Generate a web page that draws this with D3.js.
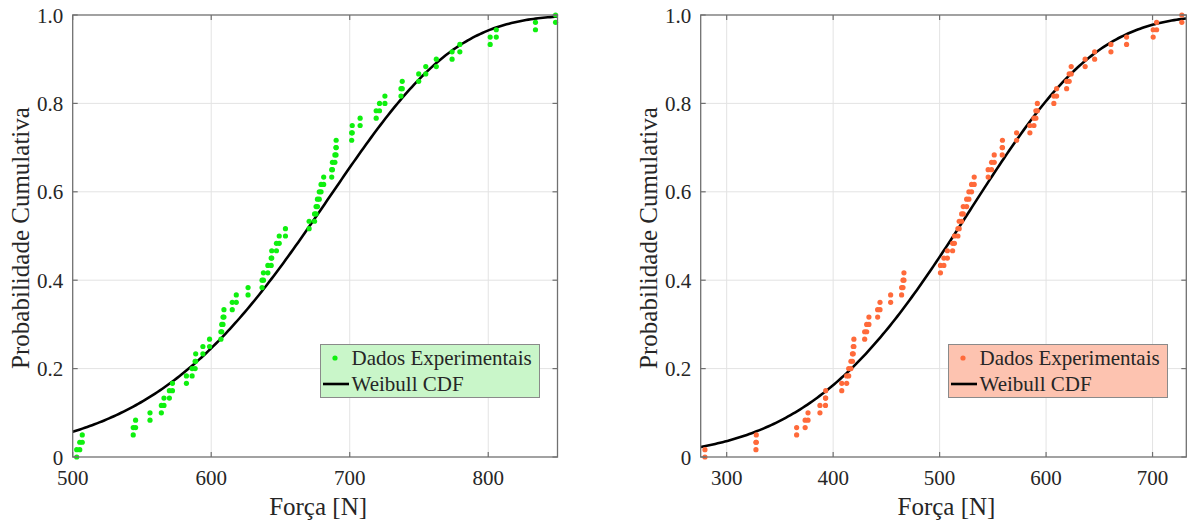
<!DOCTYPE html>
<html>
<head>
<meta charset="utf-8">
<script src="https://cdn.jsdelivr.net/npm/d3@7"></script>
<style>
  body { margin: 0; background: #fff; }
  svg { display: block; }
  text { font-family: "Liberation Serif", "Times New Roman", serif; fill: #262626; }
</style>
</head>
<body>
<svg id="chart" width="1187" height="523"></svg>
<script>
// forces (N), sorted samples of each test series
const forcaVerde = [
  502.9, 505.1, 506.9, 543.7, 545.4, 555.8, 564.0, 565.9, 569.8, 572.0,
  582.1, 586.2, 588.4, 588.8, 594.0, 598.8, 607.0, 607.6, 608.5, 609.2,
  615.2, 618.1, 626.6, 636.7, 637.7, 640.9, 643.3, 643.7, 647.1, 649.1,
  653.6, 670.7, 674.6, 675.7, 676.7, 678.0, 679.3, 681.2, 687.0, 687.5,
  689.3, 690.1, 690.2, 701.4, 701.8, 707.5, 719.1, 721.5, 725.4, 737.0,
  737.9, 749.8, 754.9, 762.5, 773.9, 779.5, 801.4, 805.8, 834.1, 848.6
]
const forcaLaranja = [
  279.6, 327.5, 327.8, 365.7, 373.7, 376.4, 387.6, 392.8, 393.0, 408.1,
  412.7, 414.6, 416.7, 418.1, 418.9, 419.5, 429.6, 431.5, 433.6, 441.8,
  444.0, 454.0, 464.3, 465.6, 466.5, 500.8, 504.0, 507.3, 512.2, 513.9,
  517.2, 518.4, 520.7, 522.2, 525.4, 527.5, 530.0, 532.5, 545.6, 548.8,
  551.3, 558.8, 559.0, 572.3, 584.8, 588.6, 590.4, 591.8, 607.3, 609.9,
  619.3, 621.7, 623.6, 636.7, 645.6, 660.9, 675.6, 700.6, 703.8, 727.5
]
// fitted Weibull parameters [scale, shape]
const weibullVerde = [695, 8.6]
const weibullLaranja = [548.4, 5.48]

const xTicksVerde = [500, 600, 700, 800]
const xTicksLaranja = [300, 400, 500, 600, 700]
const yTicks = [0, 0.2, 0.4, 0.6, 0.8, 1.0]
const yTickLabels = ['0', '0.2', '0.4', '0.6', '0.8', '1.0']
const legendLabels = ['Dados Experimentais', 'Weibull CDF']

const svg = d3.select('#chart')

const drawPanel = (cfg) => {
    const { forces, params, xDomain, xTicks, left, right, color, legendFill, legendX } = cfg
    const top = 15, bottom = 457
    const n = forces.length

    const x = d3.scaleLinear().domain(xDomain).range([left, right])
    const y = d3.scaleLinear().domain([0, 1]).range([bottom, top])

    let g = svg.append('g')

    // grid
    g.append('g').selectAll('line')
        .data(xTicks.filter(t => t > xDomain[0]))
        .enter().append('line')
        .attr('x1', d => x(d)).attr('x2', d => x(d))
        .attr('y1', top).attr('y2', bottom)
        .attr('stroke', '#e3e3e3').attr('stroke-width', 1)
    g.append('g').selectAll('line')
        .data(yTicks.slice(1, -1))
        .enter().append('line')
        .attr('x1', left).attr('x2', right)
        .attr('y1', d => y(d)).attr('y2', d => y(d))
        .attr('stroke', '#e3e3e3').attr('stroke-width', 1)

    // weibull cdf
    const cdf = v => 1 - Math.exp(-Math.pow(v / params[0], params[1]))
    const xs = d3.range(0, 201).map(i => xDomain[0] + (xDomain[1] - xDomain[0]) * i / 200)
    g.append('path')
        .datum(xs)
        .attr('fill', 'none')
        .attr('stroke', '#000')
        .attr('stroke-width', 2.6)
        .attr('d', d3.line().x(d => x(d)).y(d => y(cdf(d))))

    // experimental points, each sample at the foot and head of its ecdf step
    let pts = []
    forces.forEach((f, i) => {
        pts.push([f, i / n])
        pts.push([f, (i + 1) / n])
    })
    g.append('g').selectAll('circle')
        .data(pts)
        .enter().append('circle')
        .attr('cx', d => x(d[0]))
        .attr('cy', d => y(d[1]))
        .attr('r', 2.6)
        .attr('fill', color)

    // box and inner ticks
    g.append('rect')
        .attr('x', left).attr('y', top)
        .attr('width', right - left).attr('height', bottom - top)
        .attr('fill', 'none').attr('stroke', '#707070').attr('stroke-width', 1.3)

    xTicks.forEach(t => {
        g.append('line').attr('x1', x(t)).attr('x2', x(t)).attr('y1', bottom).attr('y2', bottom - 5)
            .attr('stroke', '#707070').attr('stroke-width', 1.2)
        g.append('line').attr('x1', x(t)).attr('x2', x(t)).attr('y1', top).attr('y2', top + 5)
            .attr('stroke', '#707070').attr('stroke-width', 1.2)
    })
    yTicks.forEach(t => {
        g.append('line').attr('x1', left).attr('x2', left + 5).attr('y1', y(t)).attr('y2', y(t))
            .attr('stroke', '#707070').attr('stroke-width', 1.2)
        g.append('line').attr('x1', right).attr('x2', right - 5).attr('y1', y(t)).attr('y2', y(t))
            .attr('stroke', '#707070').attr('stroke-width', 1.2)
    })

    // tick labels
    g.append('g').selectAll('text')
        .data(xTicks)
        .enter().append('text')
        .attr('x', d => x(d))
        .attr('y', bottom + 28)
        .attr('text-anchor', 'middle')
        .style('font-size', '21px')
        .text(d => d)
    g.append('g').selectAll('text')
        .data(yTicks)
        .enter().append('text')
        .attr('x', left - 9.5)
        .attr('y', d => y(d) + 7.5)
        .attr('text-anchor', 'end')
        .style('font-size', '21px')
        .text((d, i) => yTickLabels[i])

    // axis titles
    g.append('text')
        .attr('x', (left + right) / 2 + 3)
        .attr('y', 515)
        .attr('text-anchor', 'middle')
        .style('font-size', '25px')
        .text('Força [N]')
    g.append('text')
        .attr('transform', 'translate(' + (left - 43.5) + ',' + 238 + ') rotate(-90)')
        .attr('text-anchor', 'middle')
        .style('font-size', '25px')
        .text('Probabilidade Cumulativa')

    // legend
    let lg = g.append('g').attr('transform', 'translate(' + legendX + ',' + 344.5 + ')')
    lg.append('rect')
        .attr('width', 219).attr('height', 53)
        .attr('fill', legendFill)
        .attr('stroke', '#8a8a8a').attr('stroke-width', 1)
    lg.append('circle')
        .attr('cx', 14.5).attr('cy', 13.5).attr('r', 2.6)
        .attr('fill', color)
    lg.append('line')
        .attr('x1', 2.5).attr('x2', 28.5).attr('y1', 39.5).attr('y2', 39.5)
        .attr('stroke', '#000').attr('stroke-width', 2.6)
    lg.selectAll('text.lbl')
        .data(legendLabels)
        .enter().append('text')
        .attr('class', 'lbl')
        .attr('x', 31)
        .attr('y', (d, i) => 20.5 + i * 25.5)
        .style('font-size', '21px')
        .text(d => d)
}

drawPanel({
    forces: forcaVerde, params: weibullVerde,
    xDomain: [500, 850], xTicks: xTicksVerde,
    left: 72.7, right: 557.5,
    color: '#0ff00f', legendFill: '#c9f6c9', legendX: 320.5
})

drawPanel({
    forces: forcaLaranja, params: weibullLaranja,
    xDomain: [275.6, 731.7], xTicks: xTicksLaranja,
    left: 700.7, right: 1186.3,
    color: '#ff6a3a', legendFill: '#fdc3b0', legendX: 948.5
})
</script>
</body>
</html>
